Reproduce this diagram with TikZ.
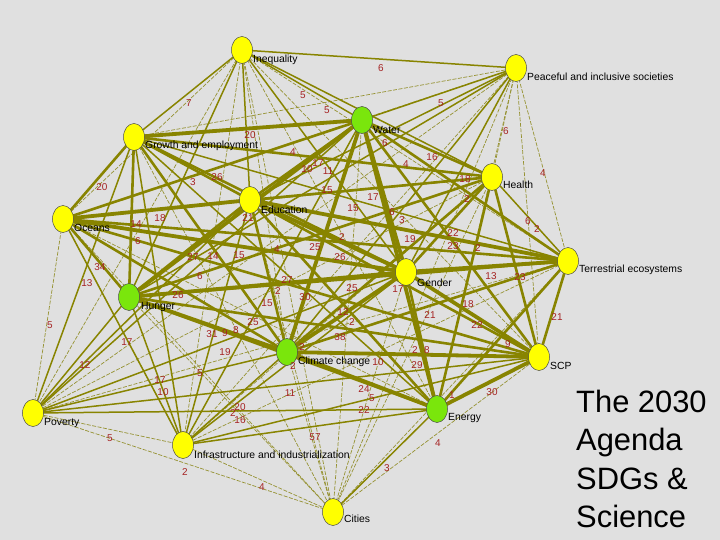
\documentclass[tikz,border=0pt]{standalone}
\usepackage{fontspec}
\setmainfont{Liberation Sans}
\usetikzlibrary{shapes.geometric,backgrounds}
\definecolor{bggray}{RGB}{224,224,224}
\definecolor{olivee}{RGB}{136,132,0}
\definecolor{olivethin}{RGB}{150,146,50}
\definecolor{numred}{RGB}{165,35,35}
\definecolor{sdgyellow}{RGB}{255,255,0}
\definecolor{sdggreen}{RGB}{122,230,12}
\tikzset{
  sdg/.style={ellipse, minimum width=21bp, minimum height=27bp, inner sep=0pt, draw=black!70, line width=0.5bp, fill=sdgyellow},
  sdgg/.style={sdg, fill=sdggreen},
  sdglabel/.style={anchor=west, inner sep=0pt, font=\fontsize{10.4}{12}\selectfont, text=black},
  numlabel/.style={inner sep=0pt, font=\fontsize{10}{11}\selectfont, text=numred},
  wA/.style={draw=olivee, line width=3.8bp},
  wB/.style={draw=olivee, line width=2.6bp},
  wC/.style={draw=olivee, line width=1.5bp},
  wD/.style={draw=olivethin, line width=0.7bp, dash pattern=on 4bp off 1.5bp},
  bigtext/.style={anchor=base west, inner sep=0pt, font=\fontsize{31}{38}\selectfont, text=black}
}
\begin{document}
\begin{tikzpicture}[x=1bp,y=-1bp]
\useasboundingbox (0,0) rectangle (720,540);
% nodes
\node[sdg]  (ineq)    at (242,50)  {};
\node[sdg]  (peace)   at (516,68)  {};
\node[sdgg] (water)   at (362,120) {};
\node[sdg]  (growth)  at (134,137) {};
\node[sdg]  (health)  at (492,177) {};
\node[sdg]  (edu)     at (250,200) {};
\node[sdg]  (oceans)  at (63,219)  {};
\node[sdg]  (terr)    at (568,261) {};
\node[sdg]  (gender)  at (406,272) {};
\node[sdgg] (hunger)  at (129,297) {};
\node[sdgg] (climate) at (287,352) {};
\node[sdg]  (scp)     at (539,357) {};
\node[sdg]  (poverty) at (33,413)  {};
\node[sdgg] (energy)  at (437,409) {};
\node[sdg]  (infra)   at (183,445) {};
\node[sdg]  (cities)  at (333,512) {};
\begin{scope}[on background layer]
\fill[bggray] (0,0) rectangle (720,540);
% thin edges
\foreach \a/\b in {ineq/oceans, ineq/terr, ineq/scp, ineq/climate, ineq/energy, ineq/infra, ineq/poverty,
  peace/health, peace/terr, peace/scp, peace/growth, peace/energy, peace/oceans, peace/poverty, peace/infra,
  poverty/infra, poverty/cities, infra/cities, cities/climate, cities/scp, cities/gender, cities/terr, cities/hunger,
  cities/water, cities/edu, cities/health, poverty/terr, poverty/health, infra/terr, infra/health, oceans/poverty,
  oceans/energy, oceans/infra, ineq/cities, peace/cities, growth/cities, oceans/cities}
  \draw[wD] (\a.center) -- (\b.center);
% medium edges
\foreach \a/\b in {ineq/peace, ineq/growth, ineq/edu, ineq/hunger, ineq/gender, ineq/water, ineq/health,
  peace/water, peace/gender, peace/climate, peace/hunger, peace/edu,
  growth/energy, growth/terr, growth/scp, growth/poverty,
  poverty/climate, poverty/hunger, poverty/edu, poverty/gender, poverty/energy, poverty/scp, poverty/water,
  infra/climate, infra/hunger, infra/gender, infra/energy, infra/scp, infra/growth, infra/water, infra/oceans, infra/edu,
  terr/health, cities/energy, oceans/health}
  \draw[wC] (\a.center) -- (\b.center);
% thick edges
\foreach \a/\b in {water/health, water/oceans, water/edu, water/terr, water/scp, oceans/hunger, oceans/terr,
  oceans/climate, oceans/scp, edu/scp, edu/health, edu/climate, edu/energy, edu/hunger, hunger/terr, hunger/scp,
  hunger/health, hunger/energy, climate/terr, climate/health, gender/health, gender/energy, health/energy,
  health/scp, terr/scp, terr/energy, growth/gender, growth/climate, growth/edu, growth/hunger, growth/health,
  growth/oceans}
  \draw[wB] (\a.center) -- (\b.center);
% very thick edges
\foreach \a/\b in {water/climate, water/gender, water/energy, gender/climate, gender/terr, gender/scp,
  climate/energy, energy/scp, hunger/climate, oceans/edu, edu/gender, edu/terr, hunger/gender, growth/water,
  oceans/gender, climate/scp, water/hunger}
  \draw[wA] (\a.center) -- (\b.center);
\end{scope}
% node labels
\node[sdglabel] (ineqL)    at (253,60)  {Inequality};
\node[sdglabel] (peaceL)   at (527,77)  {Peaceful and inclusive societies};
\node[sdglabel] (waterL)   at (373,130) {Water};
\node[sdglabel] (growthL)  at (145,146) {Growth and employment};
\node[sdglabel] (healthL)  at (503,185) {Health};
\node[sdglabel] (eduL)     at (261,210) {Education};
\node[sdglabel] (oceansL)  at (74,228)  {Oceans};
\node[sdglabel] (terrL)    at (579,270) {Terrestrial ecosystems};
\node[sdglabel] (genderL)  at (417,283) {Gender};
\node[sdglabel] (hungerL)  at (141,307) {Hunger};
\node[sdglabel] (climateL) at (298,362) {Climate change};
\node[sdglabel] (scpL)     at (550,366) {SCP};
\node[sdglabel] (povertyL) at (44,423)  {Poverty};
\node[sdglabel] (energyL)  at (448,418) {Energy};
\node[sdglabel] (infraL)   at (194,455) {Infrastructure and industrialization};
\node[sdglabel] (citiesL)  at (344,519) {Cities};
% number labels
\foreach \x/\y/\t [count=\i] in {381/68/6, 303/95/5, 327/110/5, 441/103/5, 189/103/7, 250/135/20, 293/152/4,
  307/169/10, 318/163/17, 328/171/11, 385/143/6, 432/157/16, 406/164/4, 506/131/6, 543/173/4, 102/187/20,
  193/182/3, 217/177/26, 160/218/18, 136/224/14, 138/241/6, 248/218/21, 327/190/15, 353/208/15, 373/197/17,
  392/212/6, 402/220/3, 410/239/19, 453/233/22, 453/246/23, 478/248/2, 465/179/18, 467/199/2, 528/221/6,
  537/229/2, 100/267/34, 87/283/13, 50/325/5, 127/342/17, 178/295/26, 193/257/27, 213/256/14, 239/255/15,
  277/249/4, 315/247/25, 340/257/26, 342/237/2, 200/276/6, 287/280/27, 278/291/2, 267/303/15, 305/297/30,
  352/288/25, 253/322/25, 212/334/31, 225/333/9, 236/330/8, 225/352/19, 200/373/5, 302/347/2, 293/366/2,
  343/312/12, 352/322/2, 340/337/38, 398/289/17, 378/362/10, 417/365/29, 415/350/2, 427/350/8, 430/315/21,
  468/304/18, 477/325/22, 491/276/13, 520/277/23, 557/317/21, 508/344/9, 85/365/12, 160/380/17, 163/392/10,
  290/393/11, 240/407/20, 233/413/2, 240/420/16, 315/437/57, 364/389/24, 372/398/5, 364/410/22, 452/395/1,
  492/392/30, 438/443/4, 387/468/3, 110/438/5, 185/472/2, 262/487/4}
  \node[numlabel] (num\i) at (\x,\y) {\t};
% title text
\node[bigtext] (t1) at (576,412)   {The 2030};
\node[bigtext] (t2) at (576,450.5) {Agenda};
\node[bigtext] (t3) at (576,489)   {SDGs \&};
\node[bigtext] (t4) at (576,527)   {Science};
\end{tikzpicture}
\end{document}
